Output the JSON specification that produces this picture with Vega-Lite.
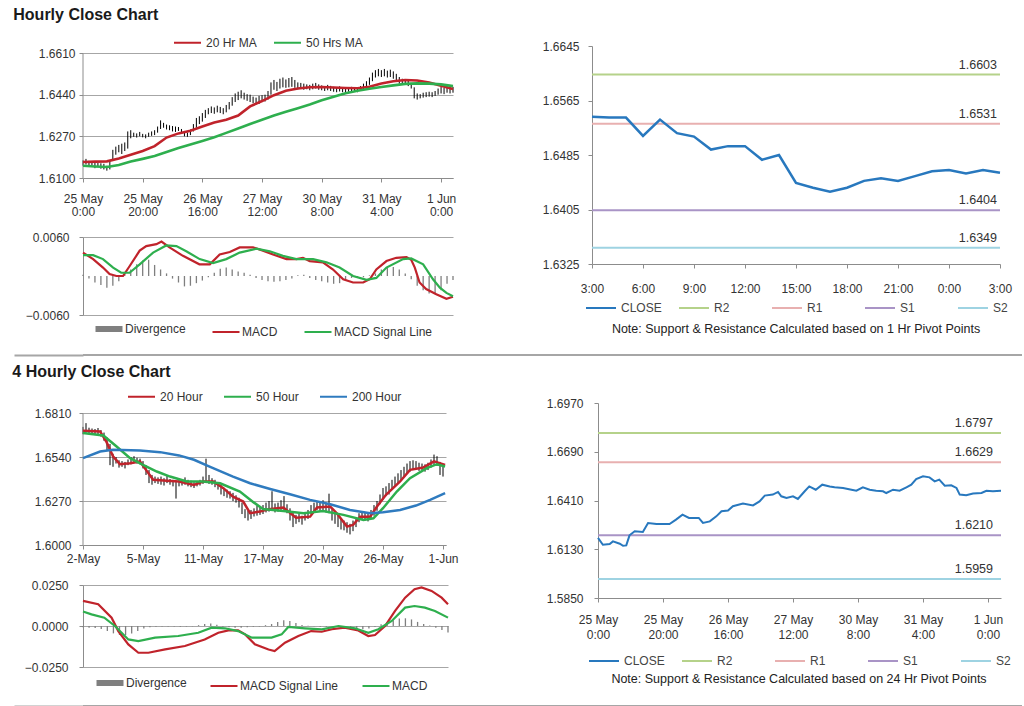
{
"$schema": "https://vega.github.io/schema/vega-lite/v6.json",
"background": "white",
"padding": {"left": 12, "top": 7, "right": 0, "bottom": 0},
"config": {
  "view": {"stroke": null},
  "font": "Liberation Sans",
  "axis": {"labelFont": "Liberation Sans", "labelFontSize": 12, "labelColor": "#333333", "domainColor": "#8C8C8C", "tickColor": "#8C8C8C", "gridColor": "#A6A6A6", "tickSize": 4, "labelFlush": false, "labelOverlap": false},
  "legend": {"labelFont": "Liberation Sans", "labelFontSize": 12, "labelColor": "#333333", "layout": {"top": {"anchor": "middle"}, "bottom": {"anchor": "middle"}}},
  "title": {"font": "Liberation Sans", "fontSize": 16, "fontWeight": "bold", "color": "#1A1A1A", "anchor": "start"}
},
"datasets": {
"h1": [
{"t":0,"lo":1.6150,"hi":1.6172},{"t":1,"lo":1.6155,"hi":1.6178},{"t":2,"lo":1.6148,"hi":1.6170},{"t":3,"lo":1.6152,"hi":1.6168},{"t":4,"lo":1.6140,"hi":1.6165},{"t":5,"lo":1.6145,"hi":1.6162},{"t":6,"lo":1.6138,"hi":1.6160},{"t":7,"lo":1.6135,"hi":1.6158},{"t":8,"lo":1.6130,"hi":1.6150},{"t":9,"lo":1.6135,"hi":1.6170},
{"t":10,"lo":1.6175,"hi":1.6215},{"t":11,"lo":1.6195,"hi":1.6228},{"t":12,"lo":1.6205,"hi":1.6235},{"t":13,"lo":1.6198,"hi":1.6240},{"t":14,"lo":1.6210,"hi":1.6245},{"t":15,"lo":1.6220,"hi":1.6290},{"t":16,"lo":1.6262,"hi":1.6295},{"t":17,"lo":1.6268,"hi":1.6285},{"t":18,"lo":1.6265,"hi":1.6282},{"t":19,"lo":1.6270,"hi":1.6288},
{"t":20,"lo":1.6266,"hi":1.6280},{"t":21,"lo":1.6262,"hi":1.6278},{"t":22,"lo":1.6268,"hi":1.6285},{"t":23,"lo":1.6272,"hi":1.6290},{"t":24,"lo":1.6275,"hi":1.6295},{"t":25,"lo":1.6285,"hi":1.6310},{"t":26,"lo":1.6300,"hi":1.6335},{"t":27,"lo":1.6305,"hi":1.6325},{"t":28,"lo":1.6298,"hi":1.6318},{"t":29,"lo":1.6295,"hi":1.6315},
{"t":30,"lo":1.6290,"hi":1.6312},{"t":31,"lo":1.6288,"hi":1.6310},{"t":32,"lo":1.6292,"hi":1.6308},{"t":33,"lo":1.6280,"hi":1.6300},{"t":34,"lo":1.6270,"hi":1.6292},{"t":35,"lo":1.6268,"hi":1.6285},{"t":36,"lo":1.6275,"hi":1.6298},{"t":37,"lo":1.6290,"hi":1.6320},{"t":38,"lo":1.6305,"hi":1.6345},{"t":39,"lo":1.6320,"hi":1.6352},
{"t":40,"lo":1.6330,"hi":1.6365},{"t":41,"lo":1.6345,"hi":1.6378},{"t":42,"lo":1.6360,"hi":1.6385},{"t":43,"lo":1.6365,"hi":1.6392},{"t":44,"lo":1.6362,"hi":1.6388},{"t":45,"lo":1.6368,"hi":1.6395},{"t":46,"lo":1.6365,"hi":1.6390},{"t":47,"lo":1.6360,"hi":1.6385},{"t":48,"lo":1.6368,"hi":1.6398},{"t":49,"lo":1.6380,"hi":1.6410},
{"t":50,"lo":1.6395,"hi":1.6430},{"t":51,"lo":1.6410,"hi":1.6445},{"t":52,"lo":1.6418,"hi":1.6452},{"t":53,"lo":1.6425,"hi":1.6458},{"t":54,"lo":1.6420,"hi":1.6448},{"t":55,"lo":1.6415,"hi":1.6442},{"t":56,"lo":1.6410,"hi":1.6440},{"t":57,"lo":1.6405,"hi":1.6432},{"t":58,"lo":1.6400,"hi":1.6428},{"t":59,"lo":1.6402,"hi":1.6435},
{"t":60,"lo":1.6410,"hi":1.6438},{"t":61,"lo":1.6412,"hi":1.6440},{"t":62,"lo":1.6420,"hi":1.6455},{"t":63,"lo":1.6440,"hi":1.6490},{"t":64,"lo":1.6460,"hi":1.6500},{"t":65,"lo":1.6455,"hi":1.6492},{"t":66,"lo":1.6465,"hi":1.6505},{"t":67,"lo":1.6470,"hi":1.6510},{"t":68,"lo":1.6468,"hi":1.6502},{"t":69,"lo":1.6470,"hi":1.6508},
{"t":70,"lo":1.6472,"hi":1.6512},{"t":71,"lo":1.6468,"hi":1.6500},{"t":72,"lo":1.6462,"hi":1.6490},{"t":73,"lo":1.6465,"hi":1.6488},{"t":74,"lo":1.6460,"hi":1.6485},{"t":75,"lo":1.6462,"hi":1.6482},{"t":76,"lo":1.6458,"hi":1.6480},{"t":77,"lo":1.6462,"hi":1.6485},{"t":78,"lo":1.6465,"hi":1.6488},{"t":79,"lo":1.6460,"hi":1.6482},
{"t":80,"lo":1.6458,"hi":1.6478},{"t":81,"lo":1.6455,"hi":1.6475},{"t":82,"lo":1.6458,"hi":1.6480},{"t":83,"lo":1.6455,"hi":1.6476},{"t":84,"lo":1.6452,"hi":1.6472},{"t":85,"lo":1.6450,"hi":1.6470},{"t":86,"lo":1.6453,"hi":1.6474},{"t":87,"lo":1.6450,"hi":1.6468},{"t":88,"lo":1.6448,"hi":1.6466},{"t":89,"lo":1.6452,"hi":1.6470},
{"t":90,"lo":1.6455,"hi":1.6472},{"t":91,"lo":1.6452,"hi":1.6470},{"t":92,"lo":1.6450,"hi":1.6468},{"t":93,"lo":1.6455,"hi":1.6475},{"t":94,"lo":1.6460,"hi":1.6485},{"t":95,"lo":1.6468,"hi":1.6495},{"t":96,"lo":1.6480,"hi":1.6510},{"t":97,"lo":1.6495,"hi":1.6530},{"t":98,"lo":1.6510,"hi":1.6540},{"t":99,"lo":1.6515,"hi":1.6545},
{"t":100,"lo":1.6512,"hi":1.6540},{"t":101,"lo":1.6515,"hi":1.6545},{"t":102,"lo":1.6510,"hi":1.6538},{"t":103,"lo":1.6512,"hi":1.6542},{"t":104,"lo":1.6505,"hi":1.6535},{"t":105,"lo":1.6495,"hi":1.6525},{"t":106,"lo":1.6485,"hi":1.6512},{"t":107,"lo":1.6482,"hi":1.6505},{"t":108,"lo":1.6480,"hi":1.6500},{"t":109,"lo":1.6475,"hi":1.6498},
{"t":110,"lo":1.6465,"hi":1.6488},{"t":111,"lo":1.6425,"hi":1.6470},{"t":112,"lo":1.6420,"hi":1.6445},{"t":113,"lo":1.6425,"hi":1.6442},{"t":114,"lo":1.6428,"hi":1.6448},{"t":115,"lo":1.6430,"hi":1.6450},{"t":116,"lo":1.6432,"hi":1.6452},{"t":117,"lo":1.6430,"hi":1.6450},{"t":118,"lo":1.6435,"hi":1.6455},{"t":119,"lo":1.6440,"hi":1.6465},
{"t":120,"lo":1.6445,"hi":1.6472},{"t":121,"lo":1.6442,"hi":1.6468},{"t":122,"lo":1.6448,"hi":1.6475},{"t":123,"lo":1.6445,"hi":1.6470},{"t":124,"lo":1.6448,"hi":1.6472}
],
"h1ma": [
{"t":0,"ma20":1.6165,"ma50":1.6150},{"t":4,"ma20":1.6167,"ma50":1.6147},{"t":8,"ma20":1.6168,"ma50":1.6145},{"t":12,"ma20":1.6180,"ma50":1.6153},{"t":16,"ma20":1.6195,"ma50":1.6167},{"t":20,"ma20":1.6210,"ma50":1.6178},{"t":24,"ma20":1.6230,"ma50":1.6190},{"t":28,"ma20":1.6265,"ma50":1.6206},{"t":32,"ma20":1.6282,"ma50":1.6222},{"t":36,"ma20":1.6293,"ma50":1.6237},{"t":40,"ma20":1.6310,"ma50":1.6251},
{"t":44,"ma20":1.6326,"ma50":1.6266},{"t":48,"ma20":1.6338,"ma50":1.6284},{"t":52,"ma20":1.6355,"ma50":1.6302},{"t":56,"ma20":1.6392,"ma50":1.6320},{"t":60,"ma20":1.6414,"ma50":1.6338},{"t":64,"ma20":1.6438,"ma50":1.6355},{"t":68,"ma20":1.6456,"ma50":1.6370},{"t":72,"ma20":1.6465,"ma50":1.6385},{"t":76,"ma20":1.6470,"ma50":1.6400},{"t":80,"ma20":1.6471,"ma50":1.6417},
{"t":84,"ma20":1.6469,"ma50":1.6432},{"t":88,"ma20":1.6467,"ma50":1.6446},{"t":92,"ma20":1.6466,"ma50":1.6456},{"t":96,"ma20":1.6472,"ma50":1.6464},{"t":100,"ma20":1.6486,"ma50":1.6471},{"t":104,"ma20":1.6495,"ma50":1.6478},{"t":108,"ma20":1.6500,"ma50":1.6484},{"t":112,"ma20":1.6498,"ma50":1.6486},{"t":116,"ma20":1.6490,"ma50":1.6485},{"t":120,"ma20":1.6476,"ma50":1.6482},{"t":124,"ma20":1.6463,"ma50":1.6475}
],
"m1": [
{"t":0,"s":"MACD","v":0.0036},{"t":3.4,"s":"MACD","v":0.0026},{"t":6.7,"s":"MACD","v":0.0013},{"t":8.9,"s":"MACD","v":0.0003},{"t":11.2,"s":"MACD","v":0.0000},{"t":13.4,"s":"MACD","v":0.0000},{"t":15.6,"s":"MACD","v":0.0015},{"t":19,"s":"MACD","v":0.0039},{"t":21.2,"s":"MACD","v":0.0046},{"t":24.6,"s":"MACD","v":0.0049},{"t":26.3,"s":"MACD","v":0.0053},{"t":29,"s":"MACD","v":0.0044},{"t":33.5,"s":"MACD","v":0.0031},{"t":39,"s":"MACD","v":0.0018},{"t":42.5,"s":"MACD","v":0.0018},{"t":45.8,"s":"MACD","v":0.0033},{"t":49.2,"s":"MACD","v":0.0037},{"t":52.5,"s":"MACD","v":0.0044},{"t":57,"s":"MACD","v":0.0044},{"t":60.3,"s":"MACD","v":0.0039},{"t":63.7,"s":"MACD","v":0.0033},{"t":68.2,"s":"MACD","v":0.0026},{"t":71.5,"s":"MACD","v":0.0026},{"t":73.7,"s":"MACD","v":0.0028},{"t":76,"s":"MACD","v":0.0023},{"t":80.4,"s":"MACD","v":0.0021},{"t":83.8,"s":"MACD","v":0.0010},{"t":87.2,"s":"MACD","v":-0.0005},{"t":90.5,"s":"MACD","v":-0.0010},{"t":93.9,"s":"MACD","v":-0.0010},{"t":96.1,"s":"MACD","v":-0.0005},{"t":98.3,"s":"MACD","v":0.0010},{"t":101.7,"s":"MACD","v":0.0023},{"t":105,"s":"MACD","v":0.0028},{"t":108.4,"s":"MACD","v":0.0029},{"t":110,"s":"MACD","v":0.0025},{"t":111.2,"s":"MACD","v":0.0013},{"t":112.8,"s":"MACD","v":-0.0010},{"t":115,"s":"MACD","v":-0.0020},{"t":118.4,"s":"MACD","v":-0.0028},{"t":121.8,"s":"MACD","v":-0.0035},{"t":124,"s":"MACD","v":-0.0032},
{"t":0,"s":"MACD Signal Line","v":0.0032},{"t":3.4,"s":"MACD Signal Line","v":0.0032},{"t":6.7,"s":"MACD Signal Line","v":0.0026},{"t":10.1,"s":"MACD Signal Line","v":0.0013},{"t":12.8,"s":"MACD Signal Line","v":0.0005},{"t":15.6,"s":"MACD Signal Line","v":0.0005},{"t":19,"s":"MACD Signal Line","v":0.0018},{"t":23.5,"s":"MACD Signal Line","v":0.0036},{"t":27.9,"s":"MACD Signal Line","v":0.0047},{"t":31.3,"s":"MACD Signal Line","v":0.0046},{"t":34.6,"s":"MACD Signal Line","v":0.0038},{"t":39.1,"s":"MACD Signal Line","v":0.0026},{"t":43.6,"s":"MACD Signal Line","v":0.0020},{"t":48,"s":"MACD Signal Line","v":0.0026},{"t":52.5,"s":"MACD Signal Line","v":0.0036},{"t":58.1,"s":"MACD Signal Line","v":0.0042},{"t":62.6,"s":"MACD Signal Line","v":0.0038},{"t":67,"s":"MACD Signal Line","v":0.0031},{"t":71.5,"s":"MACD Signal Line","v":0.0026},{"t":77.1,"s":"MACD Signal Line","v":0.0026},{"t":81.6,"s":"MACD Signal Line","v":0.0021},{"t":86,"s":"MACD Signal Line","v":0.0013},{"t":90.5,"s":"MACD Signal Line","v":0.0000},{"t":95,"s":"MACD Signal Line","v":-0.0006},{"t":98.3,"s":"MACD Signal Line","v":-0.0003},{"t":101.7,"s":"MACD Signal Line","v":0.0013},{"t":107.3,"s":"MACD Signal Line","v":0.0026},{"t":110,"s":"MACD Signal Line","v":0.0027},{"t":114,"s":"MACD Signal Line","v":0.0018},{"t":117.3,"s":"MACD Signal Line","v":-0.0005},{"t":119.6,"s":"MACD Signal Line","v":-0.0018},{"t":121.8,"s":"MACD Signal Line","v":-0.0026},{"t":124,"s":"MACD Signal Line","v":-0.0031}
],
"d1": [
{"t":0,"d":0.0002},{"t":2,"d":-0.0004},{"t":4,"d":-0.0010},{"t":6,"d":-0.0014},{"t":8,"d":-0.0018},{"t":10,"d":-0.0015},{"t":12,"d":-0.0008},{"t":14,"d":0.0003},{"t":16,"d":0.0010},{"t":18,"d":0.0018},{"t":20,"d":0.0024},{"t":22,"d":0.0025},{"t":24,"d":0.0017},{"t":26,"d":0.0010},{"t":28,"d":0.0004},{"t":30,"d":-0.0004},{"t":32,"d":-0.0010},{"t":34,"d":-0.0016},{"t":36,"d":-0.0015},{"t":38,"d":-0.0011},{"t":40,"d":-0.0007},{"t":42,"d":-0.0002},{"t":44,"d":0.0005},{"t":46,"d":0.0011},{"t":48,"d":0.0013},{"t":50,"d":0.0010},{"t":52,"d":0.0007},{"t":54,"d":0.0005},{"t":56,"d":0.0002},{"t":58,"d":-0.0003},{"t":60,"d":-0.0006},{"t":62,"d":-0.0008},
{"t":64,"d":-0.0009},{"t":66,"d":-0.0008},{"t":68,"d":-0.0006},{"t":70,"d":-0.0004},{"t":72,"d":0.0001},{"t":74,"d":0.0002},{"t":76,"d":-0.0003},{"t":78,"d":-0.0006},{"t":80,"d":-0.0008},{"t":82,"d":-0.0010},{"t":84,"d":-0.0012},{"t":86,"d":-0.0011},{"t":88,"d":-0.0006},{"t":90,"d":-0.0003},{"t":92,"d":-0.0003},{"t":94,"d":-0.0002},{"t":96,"d":0.0001},{"t":98,"d":0.0004},{"t":100,"d":0.0010},{"t":102,"d":0.0013},{"t":104,"d":0.0014},{"t":106,"d":0.0010},{"t":108,"d":0.0004},{"t":110,"d":-0.0005},{"t":112,"d":-0.0015},{"t":114,"d":-0.0022},{"t":116,"d":-0.0027},{"t":118,"d":-0.0028},{"t":120,"d":-0.0022},{"t":122,"d":-0.0012},{"t":124,"d":-0.0006}
],
"p1": [
{"t":0,"v":1.6541},{"t":1,"v":1.6540},{"t":2,"v":1.6540},{"t":3,"v":1.6513},{"t":4,"v":1.6537},{"t":5,"v":1.6517},{"t":6,"v":1.6512},{"t":7,"v":1.6493},{"t":8,"v":1.6498},{"t":9,"v":1.6498},{"t":10,"v":1.6478},{"t":11,"v":1.6485},{"t":12,"v":1.6444},{"t":13,"v":1.6437},{"t":14,"v":1.6431},{"t":15,"v":1.6437},{"t":16,"v":1.6447},{"t":17,"v":1.6451},{"t":18,"v":1.6447},{"t":19,"v":1.6454},{"t":20,"v":1.6461},{"t":21,"v":1.6463},{"t":22,"v":1.6458},{"t":23,"v":1.6463},{"t":24,"v":1.6459}
],
"pv1": [{"s":"R2","v":1.6603},{"s":"R1","v":1.6531},{"s":"S1","v":1.6404},{"s":"S2","v":1.6349}],
"b2": [
{"i":0,"lo":1.6680,"hi":1.6725},{"i":1,"lo":1.6690,"hi":1.6748},{"i":2,"lo":1.6685,"hi":1.6720},{"i":3,"lo":1.6675,"hi":1.6715},{"i":4,"lo":1.6680,"hi":1.6712},{"i":5,"lo":1.6672,"hi":1.6718},{"i":6,"lo":1.6665,"hi":1.6705},{"i":7,"lo":1.6640,"hi":1.6690},{"i":8,"lo":1.6580,"hi":1.6660},{"i":9,"lo":1.6490,"hi":1.6620},
{"i":10,"lo":1.6480,"hi":1.6560},{"i":11,"lo":1.6500,"hi":1.6540},{"i":12,"lo":1.6475,"hi":1.6520},{"i":13,"lo":1.6480,"hi":1.6515},{"i":14,"lo":1.6470,"hi":1.6510},{"i":15,"lo":1.6490,"hi":1.6525},{"i":16,"lo":1.6495,"hi":1.6540},{"i":17,"lo":1.6505,"hi":1.6545},{"i":18,"lo":1.6500,"hi":1.6535},{"i":19,"lo":1.6495,"hi":1.6530},
{"i":20,"lo":1.6470,"hi":1.6515},{"i":21,"lo":1.6430,"hi":1.6490},{"i":22,"lo":1.6380,"hi":1.6460},{"i":23,"lo":1.6370,"hi":1.6430},{"i":24,"lo":1.6380,"hi":1.6420},{"i":25,"lo":1.6375,"hi":1.6415},{"i":26,"lo":1.6370,"hi":1.6420},{"i":27,"lo":1.6365,"hi":1.6410},{"i":28,"lo":1.6380,"hi":1.6425},{"i":29,"lo":1.6370,"hi":1.6405},
{"i":30,"lo":1.6360,"hi":1.6400},{"i":31,"lo":1.6285,"hi":1.6395},{"i":32,"lo":1.6360,"hi":1.6410},{"i":33,"lo":1.6365,"hi":1.6405},{"i":34,"lo":1.6370,"hi":1.6415},{"i":35,"lo":1.6360,"hi":1.6400},{"i":36,"lo":1.6355,"hi":1.6395},{"i":37,"lo":1.6350,"hi":1.6385},{"i":38,"lo":1.6360,"hi":1.6390},{"i":39,"lo":1.6365,"hi":1.6400},
{"i":40,"lo":1.6375,"hi":1.6420},{"i":41,"lo":1.6380,"hi":1.6530},{"i":42,"lo":1.6375,"hi":1.6430},{"i":43,"lo":1.6370,"hi":1.6410},{"i":44,"lo":1.6355,"hi":1.6400},{"i":45,"lo":1.6340,"hi":1.6385},{"i":46,"lo":1.6310,"hi":1.6370},{"i":47,"lo":1.6300,"hi":1.6350},{"i":48,"lo":1.6290,"hi":1.6340},{"i":49,"lo":1.6285,"hi":1.6330},
{"i":50,"lo":1.6270,"hi":1.6320},{"i":51,"lo":1.6260,"hi":1.6305},{"i":52,"lo":1.6230,"hi":1.6290},{"i":53,"lo":1.6190,"hi":1.6260},{"i":54,"lo":1.6165,"hi":1.6220},{"i":55,"lo":1.6150,"hi":1.6210},{"i":56,"lo":1.6160,"hi":1.6215},{"i":57,"lo":1.6175,"hi":1.6225},{"i":58,"lo":1.6180,"hi":1.6240},{"i":59,"lo":1.6185,"hi":1.6235},
{"i":60,"lo":1.6190,"hi":1.6245},{"i":61,"lo":1.6200,"hi":1.6260},{"i":62,"lo":1.6205,"hi":1.6270},{"i":63,"lo":1.6210,"hi":1.6330},{"i":64,"lo":1.6200,"hi":1.6255},{"i":65,"lo":1.6205,"hi":1.6260},{"i":66,"lo":1.6215,"hi":1.6275},{"i":67,"lo":1.6210,"hi":1.6300},{"i":68,"lo":1.6195,"hi":1.6250},{"i":69,"lo":1.6150,"hi":1.6225},
{"i":70,"lo":1.6110,"hi":1.6200},{"i":71,"lo":1.6130,"hi":1.6185},{"i":72,"lo":1.6140,"hi":1.6190},{"i":73,"lo":1.6125,"hi":1.6180},{"i":74,"lo":1.6150,"hi":1.6200},{"i":75,"lo":1.6160,"hi":1.6215},{"i":76,"lo":1.6190,"hi":1.6245},{"i":77,"lo":1.6205,"hi":1.6260},{"i":78,"lo":1.6215,"hi":1.6270},{"i":79,"lo":1.6210,"hi":1.6265},
{"i":80,"lo":1.6215,"hi":1.6275},{"i":81,"lo":1.6200,"hi":1.6260},{"i":82,"lo":1.6195,"hi":1.6315},{"i":83,"lo":1.6150,"hi":1.6220},{"i":84,"lo":1.6130,"hi":1.6200},{"i":85,"lo":1.6110,"hi":1.6180},{"i":86,"lo":1.6095,"hi":1.6160},{"i":87,"lo":1.6090,"hi":1.6150},{"i":88,"lo":1.6075,"hi":1.6140},{"i":89,"lo":1.6065,"hi":1.6130},
{"i":90,"lo":1.6085,"hi":1.6150},{"i":91,"lo":1.6110,"hi":1.6165},{"i":92,"lo":1.6140,"hi":1.6195},{"i":93,"lo":1.6155,"hi":1.6205},{"i":94,"lo":1.6150,"hi":1.6200},{"i":95,"lo":1.6145,"hi":1.6195},{"i":96,"lo":1.6160,"hi":1.6215},{"i":97,"lo":1.6180,"hi":1.6245},{"i":98,"lo":1.6210,"hi":1.6270},{"i":99,"lo":1.6250,"hi":1.6310},
{"i":100,"lo":1.6280,"hi":1.6350},{"i":101,"lo":1.6300,"hi":1.6360},{"i":102,"lo":1.6310,"hi":1.6380},{"i":103,"lo":1.6340,"hi":1.6400},{"i":104,"lo":1.6360,"hi":1.6420},{"i":105,"lo":1.6380,"hi":1.6440},{"i":106,"lo":1.6395,"hi":1.6460},{"i":107,"lo":1.6420,"hi":1.6480},{"i":108,"lo":1.6440,"hi":1.6500},{"i":109,"lo":1.6450,"hi":1.6515},
{"i":110,"lo":1.6460,"hi":1.6520},{"i":111,"lo":1.6465,"hi":1.6515},{"i":112,"lo":1.6455,"hi":1.6505},{"i":113,"lo":1.6460,"hi":1.6500},{"i":114,"lo":1.6450,"hi":1.6495},{"i":115,"lo":1.6460,"hi":1.6505},{"i":116,"lo":1.6475,"hi":1.6525},{"i":117,"lo":1.6490,"hi":1.6555},{"i":118,"lo":1.6485,"hi":1.6545},{"i":119,"lo":1.6430,"hi":1.6510},{"i":120,"lo":1.6420,"hi":1.6490}
],
"ma2": [
{"i":0,"s":"20 Hour","v":1.6701},{"i":5.7,"s":"20 Hour","v":1.6697},{"i":7.9,"s":"20 Hour","v":1.6630},{"i":10,"s":"20 Hour","v":1.6545},{"i":12.3,"s":"20 Hour","v":1.6496},{"i":15.7,"s":"20 Hour","v":1.6502},{"i":19,"s":"20 Hour","v":1.6513},{"i":21,"s":"20 Hour","v":1.6461},{"i":23.4,"s":"20 Hour","v":1.6400},{"i":28,"s":"20 Hour","v":1.6394},{"i":32,"s":"20 Hour","v":1.6390},{"i":37,"s":"20 Hour","v":1.6369},{"i":40,"s":"20 Hour","v":1.6390},{"i":43.4,"s":"20 Hour","v":1.6390},{"i":46.8,"s":"20 Hour","v":1.6349},{"i":50,"s":"20 Hour","v":1.6297},{"i":53.4,"s":"20 Hour","v":1.6267},{"i":55.7,"s":"20 Hour","v":1.6195},{"i":59,"s":"20 Hour","v":1.6205},{"i":62,"s":"20 Hour","v":1.6220},{"i":66.8,"s":"20 Hour","v":1.6230},{"i":71,"s":"20 Hour","v":1.6168},{"i":75.7,"s":"20 Hour","v":1.6174},{"i":78,"s":"20 Hour","v":1.6230},{"i":82.4,"s":"20 Hour","v":1.6236},{"i":84.6,"s":"20 Hour","v":1.6195},{"i":88,"s":"20 Hour","v":1.6113},{"i":90,"s":"20 Hour","v":1.6123},{"i":92.4,"s":"20 Hour","v":1.6174},{"i":95.7,"s":"20 Hour","v":1.6174},{"i":98,"s":"20 Hour","v":1.6236},{"i":101,"s":"20 Hour","v":1.6308},{"i":105.7,"s":"20 Hour","v":1.6390},{"i":109,"s":"20 Hour","v":1.6461},{"i":113.5,"s":"20 Hour","v":1.6476},{"i":117,"s":"20 Hour","v":1.6513},{"i":120.7,"s":"20 Hour","v":1.6492},
{"i":0,"s":"50 Hour","v":1.6687},{"i":6.8,"s":"50 Hour","v":1.6672},{"i":11.2,"s":"50 Hour","v":1.6605},{"i":15.7,"s":"50 Hour","v":1.6533},{"i":20,"s":"50 Hour","v":1.6492},{"i":24.6,"s":"50 Hour","v":1.6451},{"i":29,"s":"50 Hour","v":1.6420},{"i":34.6,"s":"50 Hour","v":1.6390},{"i":40,"s":"50 Hour","v":1.6390},{"i":45.7,"s":"50 Hour","v":1.6379},{"i":52.3,"s":"50 Hour","v":1.6328},{"i":57,"s":"50 Hour","v":1.6260},{"i":60,"s":"50 Hour","v":1.6221},{"i":66.8,"s":"50 Hour","v":1.6209},{"i":73.5,"s":"50 Hour","v":1.6195},{"i":80,"s":"50 Hour","v":1.6209},{"i":86.8,"s":"50 Hour","v":1.6185},{"i":93.5,"s":"50 Hour","v":1.6154},{"i":96.8,"s":"50 Hour","v":1.6164},{"i":100,"s":"50 Hour","v":1.6226},{"i":104.6,"s":"50 Hour","v":1.6328},{"i":109,"s":"50 Hour","v":1.6410},{"i":114.6,"s":"50 Hour","v":1.6472},{"i":118,"s":"50 Hour","v":1.6496},{"i":120.7,"s":"50 Hour","v":1.6482},
{"i":0,"s":"200 Hour","v":1.6533},{"i":5.7,"s":"200 Hour","v":1.6574},{"i":10,"s":"200 Hour","v":1.6584},{"i":19,"s":"200 Hour","v":1.6580},{"i":25.7,"s":"200 Hour","v":1.6570},{"i":32,"s":"200 Hour","v":1.6550},{"i":37,"s":"200 Hour","v":1.6523},{"i":42,"s":"200 Hour","v":1.6482},{"i":50,"s":"200 Hour","v":1.6420},{"i":55.7,"s":"200 Hour","v":1.6379},{"i":62.4,"s":"200 Hour","v":1.6344},{"i":69,"s":"200 Hour","v":1.6312},{"i":75.7,"s":"200 Hour","v":1.6277},{"i":82.4,"s":"200 Hour","v":1.6250},{"i":89,"s":"200 Hour","v":1.6215},{"i":95.7,"s":"200 Hour","v":1.6195},{"i":100,"s":"200 Hour","v":1.6201},{"i":105.7,"s":"200 Hour","v":1.6215},{"i":111,"s":"200 Hour","v":1.6242},{"i":115.7,"s":"200 Hour","v":1.6277},{"i":120.7,"s":"200 Hour","v":1.6318}
],
"m2": [
{"i":0,"s":"MACD Signal Line","v":0.0153},{"i":5,"s":"MACD Signal Line","v":0.0133},{"i":9.4,"s":"MACD Signal Line","v":0.0051},{"i":11.6,"s":"MACD Signal Line","v":-0.0031},{"i":14.9,"s":"MACD Signal Line","v":-0.0112},{"i":18.2,"s":"MACD Signal Line","v":-0.0163},{"i":21.5,"s":"MACD Signal Line","v":-0.0163},{"i":27,"s":"MACD Signal Line","v":-0.0143},{"i":33.5,"s":"MACD Signal Line","v":-0.0122},{"i":40,"s":"MACD Signal Line","v":-0.0082},{"i":44.5,"s":"MACD Signal Line","v":-0.0041},{"i":47.8,"s":"MACD Signal Line","v":-0.0027},{"i":51,"s":"MACD Signal Line","v":-0.0027},{"i":53.3,"s":"MACD Signal Line","v":-0.0051},{"i":56.5,"s":"MACD Signal Line","v":-0.0112},{"i":61,"s":"MACD Signal Line","v":-0.0143},{"i":63,"s":"MACD Signal Line","v":-0.0153},{"i":66.4,"s":"MACD Signal Line","v":-0.0102},{"i":70.8,"s":"MACD Signal Line","v":-0.0061},{"i":75,"s":"MACD Signal Line","v":-0.0031},{"i":78.5,"s":"MACD Signal Line","v":-0.0035},{"i":81.8,"s":"MACD Signal Line","v":-0.0020},{"i":86,"s":"MACD Signal Line","v":-0.0010},{"i":90.5,"s":"MACD Signal Line","v":-0.0027},{"i":93.8,"s":"MACD Signal Line","v":-0.0061},{"i":96,"s":"MACD Signal Line","v":-0.0055},{"i":99.3,"s":"MACD Signal Line","v":0.0000},{"i":102.6,"s":"MACD Signal Line","v":0.0092},{"i":105.9,"s":"MACD Signal Line","v":0.0173},{"i":109,"s":"MACD Signal Line","v":0.0224},{"i":111.3,"s":"MACD Signal Line","v":0.0235},{"i":114.6,"s":"MACD Signal Line","v":0.0214},{"i":117.9,"s":"MACD Signal Line","v":0.0173},{"i":120,"s":"MACD Signal Line","v":0.0133},
{"i":0,"s":"MACD","v":0.0088},{"i":2.8,"s":"MACD","v":0.0071},{"i":7,"s":"MACD","v":0.0051},{"i":10.5,"s":"MACD","v":0.0000},{"i":14.9,"s":"MACD","v":-0.0082},{"i":18.2,"s":"MACD","v":-0.0092},{"i":23.7,"s":"MACD","v":-0.0071},{"i":31.3,"s":"MACD","v":-0.0061},{"i":37.9,"s":"MACD","v":-0.0041},{"i":42.3,"s":"MACD","v":-0.0010},{"i":46.7,"s":"MACD","v":-0.0014},{"i":51,"s":"MACD","v":-0.0031},{"i":55.5,"s":"MACD","v":-0.0071},{"i":62,"s":"MACD","v":-0.0071},{"i":65.3,"s":"MACD","v":-0.0051},{"i":67.5,"s":"MACD","v":-0.0006},{"i":73,"s":"MACD","v":-0.0014},{"i":78.5,"s":"MACD","v":-0.0020},{"i":84,"s":"MACD","v":0.0000},{"i":89.4,"s":"MACD","v":-0.0014},{"i":93.8,"s":"MACD","v":-0.0041},{"i":97.1,"s":"MACD","v":-0.0020},{"i":101.5,"s":"MACD","v":0.0031},{"i":105.9,"s":"MACD","v":0.0112},{"i":109,"s":"MACD","v":0.0122},{"i":112.4,"s":"MACD","v":0.0112},{"i":115.7,"s":"MACD","v":0.0092},{"i":120,"s":"MACD","v":0.0051}
],
"d2": [
{"i":0,"d":-0.0008},{"i":2,"d":-0.0010},{"i":4,"d":-0.0012},{"i":6,"d":-0.0018},{"i":8,"d":-0.0030},{"i":10,"d":-0.0045},{"i":12,"d":-0.0055},{"i":14,"d":-0.0055},{"i":16,"d":-0.0045},{"i":18,"d":-0.0030},{"i":20,"d":-0.0015},{"i":22,"d":-0.0008},{"i":24,"d":-0.0005},{"i":26,"d":-0.0003},{"i":28,"d":-0.0003},{"i":30,"d":-0.0003},{"i":32,"d":-0.0004},{"i":34,"d":-0.0003},{"i":36,"d":-0.0002},{"i":38,"d":0.0005},{"i":40,"d":0.0012},{"i":42,"d":0.0015},{"i":44,"d":0.0008},{"i":46,"d":-0.0004},{"i":48,"d":-0.0008},{"i":50,"d":-0.0010},{"i":52,"d":-0.0010},{"i":54,"d":-0.0008},{"i":56,"d":-0.0005},{"i":58,"d":-0.0003},{"i":60,"d":0.0005},
{"i":62,"d":0.0012},{"i":64,"d":0.0025},{"i":66,"d":0.0035},{"i":68,"d":0.0030},{"i":70,"d":0.0018},{"i":72,"d":0.0006},{"i":74,"d":0.0002},{"i":76,"d":-0.0002},{"i":78,"d":-0.0004},{"i":80,"d":-0.0004},{"i":82,"d":-0.0002},{"i":84,"d":0.0002},{"i":86,"d":-0.0004},{"i":88,"d":-0.0010},{"i":90,"d":-0.0015},{"i":92,"d":-0.0020},{"i":94,"d":-0.0015},{"i":96,"d":-0.0005},{"i":98,"d":0.0010},{"i":100,"d":0.0025},{"i":102,"d":0.0035},{"i":104,"d":0.0045},{"i":106,"d":0.0047},{"i":108,"d":0.0040},{"i":110,"d":0.0025},{"i":112,"d":0.0012},{"i":114,"d":0.0003},{"i":116,"d":-0.0010},{"i":118,"d":-0.0025},{"i":120,"d":-0.0040}
],
"p2": [
{"t":0,"v":1.6195},{"t":1.5,"v":1.6156},{"t":3.6,"v":1.6160},{"t":4.6,"v":1.6175},{"t":6.7,"v":1.6162},{"t":7.7,"v":1.6150},{"t":8.7,"v":1.6152},{"t":9.7,"v":1.6210},{"t":11.3,"v":1.6233},{"t":13.8,"v":1.6229},{"t":15.4,"v":1.6281},{"t":18,"v":1.6275},{"t":22,"v":1.6275},{"t":24,"v":1.6300},{"t":26,"v":1.6329},{"t":28,"v":1.6310},{"t":31,"v":1.6310},{"t":32.3,"v":1.6281},{"t":34.4,"v":1.6290},{"t":36.4,"v":1.6319},{"t":38,"v":1.6348},{"t":40,"v":1.6352},{"t":41.5,"v":1.6377},{"t":44.6,"v":1.6392},{"t":47.7,"v":1.6382},{"t":49.7,"v":1.6405},{"t":51.3,"v":1.6438},{"t":53.8,"v":1.6444},{"t":55.4,"v":1.6459},{"t":56.4,"v":1.6434},{"t":58,"v":1.6424},{"t":60,"v":1.6434},{"t":61.5,"v":1.6419},{"t":63.6,"v":1.6463},{"t":65,"v":1.6491},{"t":67,"v":1.6472},{"t":69,"v":1.6501},{"t":71.3,"v":1.6491},{"t":72.8,"v":1.6486},{"t":75.4,"v":1.6482},{"t":78,"v":1.6472},{"t":79.5,"v":1.6466},{"t":81.5,"v":1.6486},{"t":83.6,"v":1.6472},{"t":85.6,"v":1.6466},{"t":87.7,"v":1.6463},{"t":88.7,"v":1.6453},{"t":90.8,"v":1.6472},{"t":92.8,"v":1.6466},{"t":94.9,"v":1.6486},{"t":96.4,"v":1.6501},{"t":97.9,"v":1.6533},{"t":100,"v":1.6549},{"t":102,"v":1.6543},{"t":103.6,"v":1.6520},{"t":105,"v":1.6530},{"t":106.7,"v":1.6495},{"t":108.7,"v":1.6497},{"t":110.3,"v":1.6482},{"t":111.3,"v":1.6444},{"t":113.3,"v":1.6440},{"t":115.4,"v":1.6450},{"t":118,"v":1.6453},{"t":119.5,"v":1.6466},{"t":121.5,"v":1.6463},{"t":124,"v":1.6466}
],
"pv2": [{"s":"R2","v":1.6797},{"s":"R1","v":1.6629},{"s":"S1","v":1.6210},{"s":"S2","v":1.5959}],
"ax1": [{"lo":1.61,"hi":1.661}],
"ax2": [{"lo":1.6,"hi":1.681}]
},
"resolve": {"scale": {"color": "independent"}, "legend": {"color": "independent"}},
"spacing": 8,
"vconcat": [
{
"resolve": {"scale": {"color": "independent"}, "legend": {"color": "independent"}},
"spacing": 13,
"vconcat": [
{
"title": {"text": "Hourly Close Chart", "dx": -12, "offset": 5},
"resolve": {"scale": {"color": "independent"}, "legend": {"color": "independent"}},
"spacing": 79,
"hconcat": [
{
"resolve": {"scale": {"color": "independent"}, "legend": {"color": "independent"}},
"spacing": 14,
"vconcat": [
{
"width": 370, "height": 132,
"layer": [
{"data": {"name": "h1"}, "mark": {"type": "rule", "color": "#000000", "strokeWidth": 1},
 "encoding": {
  "x": {"field": "t", "type": "quantitative", "scale": {"domain": [0, 124], "nice": false, "zero": false},
   "axis": {"title": null, "values": [0,20,40,60,80,100,120], "labelLineHeight": 13, "labelPadding": 11, "grid": false,
    "labelExpr": "datum.value == 0 ? ['25 May','0:00'] : datum.value == 20 ? ['25 May','20:00'] : datum.value == 40 ? ['26 May','16:00'] : datum.value == 60 ? ['27 May','12:00'] : datum.value == 80 ? ['30 May','8:00'] : datum.value == 100 ? ['31 May','4:00'] : ['1 Jun','0:00']"}},
  "y": {"field": "lo", "type": "quantitative", "scale": {"domain": [1.61, 1.66386], "nice": false, "zero": false},
   "axis": {"title": null, "values": [1.61, 1.627, 1.644, 1.661], "format": ".4f", "grid": true, "domain": false, "labelPadding": 4, "minExtent": 48, "maxExtent": 48}},
  "y2": {"field": "hi"}
 }},
{"data": {"name": "ax1"}, "mark": {"type": "rule", "color": "#8C8C8C", "strokeWidth": 1},
 "encoding": {"x": {"datum": 0, "type": "quantitative"}, "y": {"field": "lo", "type": "quantitative"}, "y2": {"field": "hi"}}},
{"data": {"name": "h1ma"}, "transform": [{"fold": ["ma20", "ma50"], "as": ["s", "v"]}],
 "mark": {"type": "line", "strokeWidth": 2.6},
 "encoding": {
  "x": {"field": "t", "type": "quantitative"},
  "y": {"field": "v", "type": "quantitative"},
  "color": {"field": "s", "type": "nominal", "scale": {"domain": ["ma20", "ma50"], "range": ["#C0232B", "#2EAF4E"]},
   "legend": {"orient": "top", "direction": "horizontal", "title": null, "labelExpr": "datum.value == 'ma20' ? '20 Hr MA' : '50 Hrs MA'", "symbolType": "stroke", "symbolSize": 729, "symbolStrokeWidth": 2, "columnPadding": 13, "offset": -3}}
 }}
]
},
{
"width": 370, "height": 78,
"layer": [
{"data": {"name": "d1"}, "mark": {"type": "rule", "strokeWidth": 1.3},
 "encoding": {
  "x": {"field": "t", "type": "quantitative", "scale": {"domain": [0, 124], "nice": false, "zero": false}, "axis": null},
  "y": {"field": "d", "type": "quantitative", "scale": {"domain": [-0.006, 0.006], "nice": false},
   "axis": {"title": null, "values": [-0.006, 0, 0.006], "format": ".4f", "grid": true, "labelPadding": 10, "minExtent": 44, "maxExtent": 44}},
  "y2": {"datum": 0},
  "color": {"datum": "Divergence", "type": "nominal", "scale": {"domain": ["Divergence", "MACD", "MACD Signal Line"], "range": ["#7F7F7F", "#C0232B", "#2EAF4E"]},
   "legend": {"orient": "bottom", "direction": "horizontal", "title": null, "symbolType": "stroke", "symbolSize": 729, "symbolStrokeWidth": 2, "columnPadding": 22, "labelOffset": 10, "offset": 8,
    "encode": {"symbols": {"update": {"strokeWidth": {"signal": "datum.value === 'Divergence' ? 6 : 2"}}}}}}
 }},
{"data": {"name": "m1"}, "mark": {"type": "line", "strokeWidth": 2.2},
 "encoding": {
  "x": {"field": "t", "type": "quantitative"},
  "y": {"field": "v", "type": "quantitative"},
  "color": {"field": "s", "type": "nominal", "legend": {"title": null}}
 }}
]
}
]
},
{
"width": 408, "height": 218,
"layer": [
{"data": {"name": "pv1"}, "mark": {"type": "rule", "strokeWidth": 2},
 "encoding": {
  "y": {"field": "v", "type": "quantitative", "scale": {"domain": [1.6325, 1.6645], "nice": false, "zero": false},
   "axis": {"title": null, "values": [1.6325, 1.6405, 1.6485, 1.6565, 1.6645], "format": ".4f", "grid": false, "labelPadding": 9, "minExtent": 54, "maxExtent": 54}},
  "color": {"field": "s", "type": "nominal", "scale": {"domain": ["CLOSE", "R2", "R1", "S1", "S2"], "range": ["#2878BE", "#B5D28A", "#E8B0B0", "#A994C6", "#9ED3E2"]},
   "legend": {"orient": "bottom", "direction": "horizontal", "title": "Note: Support & Resistance Calculated based on 1 Hr Pivot Points", "titleOrient": "bottom", "titleAnchor": "middle", "titleFontWeight": "normal", "titleFontSize": 12.5, "titleFont": "Liberation Sans", "titleColor": "#222222", "titlePadding": 9, "titleLimit": 600, "symbolType": "stroke", "symbolSize": 900, "symbolStrokeWidth": 2, "columnPadding": 13, "gridAlign": "all", "offset": -2, "labelColor": "#444444"}}
 }},
{"data": {"name": "p1"}, "mark": {"type": "line", "strokeWidth": 2.5},
 "encoding": {
  "x": {"field": "t", "type": "quantitative", "scale": {"domain": [0, 24], "nice": false, "zero": false},
   "axis": {"title": null, "values": [0,3,6,9,12,15,18,21,24], "labelPadding": 15, "grid": false, "labelExpr": "((datum.value + 3) % 24) + ':00'"}},
  "y": {"field": "v", "type": "quantitative"},
  "color": {"datum": "CLOSE", "type": "nominal"}
 }},
{"data": {"name": "pv1"}, "mark": {"type": "text", "align": "right", "baseline": "alphabetic", "dx": -3, "dy": -6, "fontSize": 12.5, "color": "#333333"},
 "encoding": {
  "x": {"datum": 24, "type": "quantitative"},
  "y": {"field": "v", "type": "quantitative"},
  "text": {"field": "v", "type": "quantitative", "format": ".4f"}
 }}
]
}
]
},
{
"width": 939, "height": 1,
"data": {"values": [{"v": 0}]},
"mark": {"type": "rule", "color": "#A6A6A6", "strokeWidth": 2},
"encoding": {"y": {"field": "v", "type": "quantitative", "scale": {"domain": [0, 1]},
  "axis": {"title": null, "values": [0], "labels": false, "domain": false, "grid": false, "ticks": true, "tickSize": 69, "tickWidth": 2, "tickColor": "#A6A6A6", "minExtent": 50, "maxExtent": 50}}}
}
]
},
{
"resolve": {"scale": {"color": "independent"}, "legend": {"color": "independent"}},
"spacing": 10,
"vconcat": [
{
"title": {"text": "4 Hourly Close Chart", "dx": -12, "offset": 2},
"resolve": {"scale": {"color": "independent"}, "legend": {"color": "independent"}},
"spacing": 86,
"hconcat": [
{
"resolve": {"scale": {"color": "independent"}, "legend": {"color": "independent"}},
"spacing": 15,
"vconcat": [
{
"width": 363, "height": 142,
"layer": [
{"data": {"name": "b2"}, "mark": {"type": "rule", "color": "#000000", "strokeWidth": 1},
 "encoding": {
  "x": {"field": "i", "type": "quantitative", "scale": {"domain": [0, 121], "nice": false, "zero": false},
   "axis": {"title": null, "values": [0,20,40,60,80,100,120], "labelPadding": 4, "grid": false,
    "labelExpr": "datum.value == 0 ? '2-May' : datum.value == 20 ? '5-May' : datum.value == 40 ? '11-May' : datum.value == 60 ? '17-May' : datum.value == 80 ? '20-May' : datum.value == 100 ? '26-May' : '1-Jun'"}},
  "y": {"field": "lo", "type": "quantitative", "scale": {"domain": [1.6, 1.68716], "nice": false, "zero": false},
   "axis": {"title": null, "values": [1.6, 1.627, 1.654, 1.681], "format": ".4f", "grid": true, "domain": false, "labelPadding": 8, "minExtent": 49, "maxExtent": 49}},
  "y2": {"field": "hi"}
 }},
{"data": {"name": "ax2"}, "mark": {"type": "rule", "color": "#8C8C8C", "strokeWidth": 1},
 "encoding": {"x": {"datum": 0, "type": "quantitative"}, "y": {"field": "lo", "type": "quantitative"}, "y2": {"field": "hi"}}},
{"data": {"name": "ma2"}, "mark": {"type": "line", "strokeWidth": 2.5},
 "encoding": {
  "x": {"field": "i", "type": "quantitative"},
  "y": {"field": "v", "type": "quantitative"},
  "color": {"field": "s", "type": "nominal", "scale": {"domain": ["20 Hour", "50 Hour", "200 Hour"], "range": ["#C0232B", "#2EAF4E", "#2F7BBF"]},
   "legend": {"orient": "top", "direction": "horizontal", "title": null, "symbolType": "stroke", "symbolSize": 729, "symbolStrokeWidth": 2, "columnPadding": 17, "offset": 0}}
 }}
]
},
{
"width": 365, "height": 82,
"layer": [
{"data": {"name": "d2"}, "mark": {"type": "rule", "strokeWidth": 1.3},
 "encoding": {
  "x": {"field": "i", "type": "quantitative", "scale": {"domain": [0, 120], "nice": false, "zero": false}, "axis": null},
  "y": {"field": "d", "type": "quantitative", "scale": {"domain": [-0.025, 0.025], "nice": false},
   "axis": {"title": null, "values": [-0.025, 0, 0.025], "format": ".4f", "grid": true, "labelPadding": 11, "minExtent": 45, "maxExtent": 45}},
  "y2": {"datum": 0},
  "color": {"datum": "Divergence", "type": "nominal", "scale": {"domain": ["Divergence", "MACD Signal Line", "MACD"], "range": ["#7F7F7F", "#C0232B", "#2EAF4E"]},
   "legend": {"orient": "bottom", "direction": "horizontal", "title": null, "symbolType": "stroke", "symbolSize": 729, "symbolStrokeWidth": 2, "columnPadding": 19, "labelOffset": 10, "offset": 10,
    "encode": {"symbols": {"update": {"strokeWidth": {"signal": "datum.value === 'Divergence' ? 6 : 2"}}}}}}
 }},
{"data": {"name": "m2"}, "mark": {"type": "line", "strokeWidth": 2.2},
 "encoding": {
  "x": {"field": "i", "type": "quantitative"},
  "y": {"field": "v", "type": "quantitative"},
  "color": {"field": "s", "type": "nominal", "legend": {"title": null}}
 }}
]
}
]
},
{
"width": 403, "height": 195,
"layer": [
{"data": {"name": "pv2"}, "mark": {"type": "rule", "strokeWidth": 2},
 "encoding": {
  "y": {"field": "v", "type": "quantitative", "scale": {"domain": [1.585, 1.697], "nice": false, "zero": false},
   "axis": {"title": null, "values": [1.585, 1.613, 1.641, 1.669, 1.697], "format": ".4f", "grid": false, "labelPadding": 11, "minExtent": 53, "maxExtent": 53}},
  "color": {"field": "s", "type": "nominal", "scale": {"domain": ["CLOSE", "R2", "R1", "S1", "S2"], "range": ["#2878BE", "#B5D28A", "#E8B0B0", "#A994C6", "#9ED3E2"]},
   "legend": {"orient": "bottom", "direction": "horizontal", "title": "Note: Support & Resistance Calculated based on 24 Hr Pivot Points", "titleOrient": "bottom", "titleAnchor": "middle", "titleFontWeight": "normal", "titleFontSize": 12.5, "titleFont": "Liberation Sans", "titleColor": "#222222", "titlePadding": 6, "titleLimit": 600, "symbolType": "stroke", "symbolSize": 900, "symbolStrokeWidth": 2, "columnPadding": 13, "gridAlign": "all", "offset": 5, "labelColor": "#444444"}}
 }},
{"data": {"name": "p2"}, "mark": {"type": "line", "strokeWidth": 2},
 "encoding": {
  "x": {"field": "t", "type": "quantitative", "scale": {"domain": [0, 124], "nice": false, "zero": false},
   "axis": {"title": null, "values": [0,20,40,60,80,100,120], "labelLineHeight": 15, "labelPadding": 12, "grid": false,
    "labelExpr": "datum.value == 0 ? ['25 May','0:00'] : datum.value == 20 ? ['25 May','20:00'] : datum.value == 40 ? ['26 May','16:00'] : datum.value == 60 ? ['27 May','12:00'] : datum.value == 80 ? ['30 May','8:00'] : datum.value == 100 ? ['31 May','4:00'] : ['1 Jun','0:00']"}},
  "y": {"field": "v", "type": "quantitative"},
  "color": {"datum": "CLOSE", "type": "nominal"}
 }},
{"data": {"name": "pv2"}, "mark": {"type": "text", "align": "right", "baseline": "alphabetic", "dx": -8, "dy": -6, "fontSize": 12.5, "color": "#333333"},
 "encoding": {
  "x": {"datum": 124, "type": "quantitative"},
  "y": {"field": "v", "type": "quantitative"},
  "text": {"field": "v", "type": "quantitative", "format": ".4f"}
 }}
]
}
]
},
{
"width": 939, "height": 1,
"data": {"values": [{"v": 0}]},
"mark": {"type": "rule", "color": "#A6A6A6", "strokeWidth": 2},
"encoding": {"y": {"field": "v", "type": "quantitative", "scale": {"domain": [0, 1]},
  "axis": {"title": null, "values": [0], "labels": false, "domain": false, "grid": false, "ticks": true, "tickSize": 69, "tickWidth": 2, "tickColor": "#A6A6A6", "minExtent": 50, "maxExtent": 50}}}
}
]
}
]
}
